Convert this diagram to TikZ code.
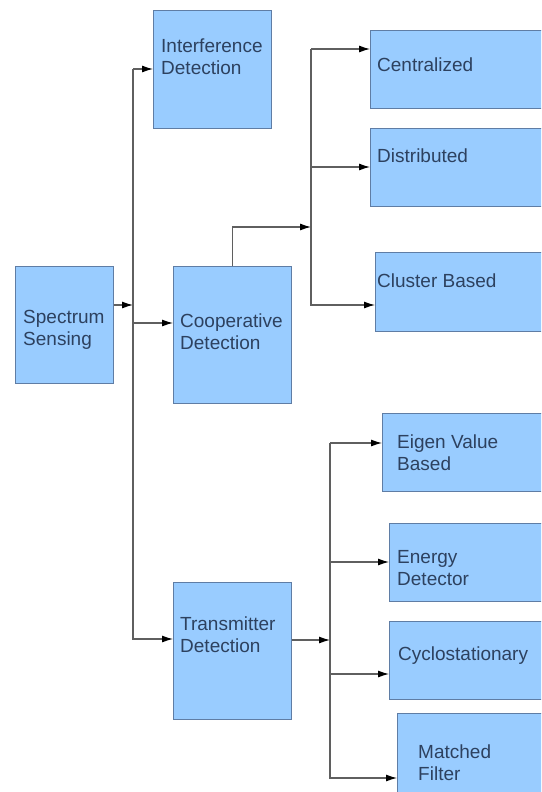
\documentclass[tikz,border=0pt]{standalone}
\usepackage{fontspec}
\setmainfont{Liberation Sans}
\usetikzlibrary{positioning, arrows.meta}
\definecolor{boxblue}{RGB}{153,204,255}
\definecolor{boxedge}{RGB}{95,125,165}
\definecolor{txtcol}{RGB}{45,65,95}
\definecolor{linecol}{RGB}{95,95,95}

\begin{document}
\begin{tikzpicture}[x=1pt, y=-1pt,
  blk/.style={fill=boxblue, draw=boxedge, line width=0.8pt, anchor=north west, inner sep=0pt},
  lbl/.style={text=txtcol, align=left, inner sep=0pt, font=\fontsize{19}{22}\selectfont},
  arr/.style={draw=linecol, line width=1.1pt, -{Latex[length=11pt, width=7pt, color=black]}}]

    \useasboundingbox (0,0) rectangle (541,792);
    \fill[white] (0,0) rectangle (541,792);
    \clip (0,0) rectangle (541,792);

    % boxes
    \node[blk, minimum width=98pt, minimum height=117pt] (sensing) at (15,266) {};
    \node[blk, minimum width=118pt, minimum height=118pt] (interf) at (153,10) {};
    \node[blk, minimum width=118pt, minimum height=137pt] (coop) at (173,266) {};
    \node[blk, minimum width=118pt, minimum height=137pt] (trans) at (173,582) {};

    \node[blk, minimum width=200pt, minimum height=78pt] (central) at (370,30) {};
    \node[blk, minimum width=200pt, minimum height=78pt] (distrib) at (370,128) {};
    \node[blk, minimum width=200pt, minimum height=79pt] (cluster) at (375,252) {};

    \node[blk, minimum width=200pt, minimum height=78pt] (eigen) at (382,413) {};
    \node[blk, minimum width=200pt, minimum height=78pt] (energy) at (389,523) {};
    \node[blk, minimum width=200pt, minimum height=78pt] (cyclo) at (389,621) {};
    \node[blk, minimum width=200pt, minimum height=87pt] (matched) at (397,713) {};

    % texts
    \node[lbl, right=8pt of sensing.west, yshift=-5pt] (sensingtxt) {Spectrum\\Sensing};
    \node[lbl, right=8pt of interf.west, yshift=13pt] (interftxt) {Interference\\Detection};
    \node[lbl, right=7pt of coop.west, yshift=3pt] (cooptxt) {Cooperative\\Detection};
    \node[lbl, right=7pt of trans.west, yshift=16pt] (transtxt) {Transmitter\\Detection};

    \node[lbl, right=7pt of central.west, yshift=5pt] (centraltxt) {Centralized};
    \node[lbl, right=7pt of distrib.west, yshift=12pt] (distribtxt) {Distributed};
    \node[lbl, right=2pt of cluster.west, yshift=11pt] (clustertxt) {Cluster Based};

    \node[lbl, right=15pt of eigen.west] (eigentxt) {Eigen Value\\Based};
    \node[lbl, right=8pt of energy.west, yshift=-6pt] (energytxt) {Energy\\Detector};
    \node[lbl, right=9pt of cyclo.west, yshift=5pt] (cyclotxt) {Cyclostationary};
    \node[lbl, right=21pt of matched.west, yshift=-6pt] (matchedtxt) {Matched\\Filter};

    % first level
    \coordinate (ss) at (133,305);
    \coordinate (t1top) at (133,69);
    \coordinate (t1mid) at (133,323);
    \coordinate (t1bot) at (133,639);
    \draw[arr] (sensing.east |- ss) -- (ss);
    \draw[arr] (t1top) |- (trans.west |- t1bot);
    \draw[arr] (t1top) -- (interf.west |- t1top);
    \draw[arr] (t1mid) -- (coop.west |- t1mid);

    % cooperative branch
    \coordinate (t2top) at (311,49);
    \coordinate (t2mid) at (311,227);
    \coordinate (t2dis) at (311,167);
    \coordinate (t2bot) at (311,305);
    \draw[arr] (coop.north) |- (t2mid);
    \draw[arr] (t2top) |- (cluster.west |- t2bot);
    \draw[arr] (t2top) -- (central.west |- t2top);
    \draw[arr] (t2dis) -- (distrib.west |- t2dis);

    % transmitter branch
    \coordinate (t3top) at (330,443);
    \coordinate (t3mid) at (330,640);
    \coordinate (t3en) at (330,562);
    \coordinate (t3cy) at (330,674);
    \coordinate (t3bot) at (330,778);
    \draw[arr] (trans.east |- t3mid) -- (t3mid);
    \draw[arr] (t3top) |- (matched.west |- t3bot);
    \draw[arr] (t3top) -- (eigen.west |- t3top);
    \draw[arr] (t3en) -- (energy.west |- t3en);
    \draw[arr] (t3cy) -- (cyclo.west |- t3cy);

\end{tikzpicture}
\end{document}
